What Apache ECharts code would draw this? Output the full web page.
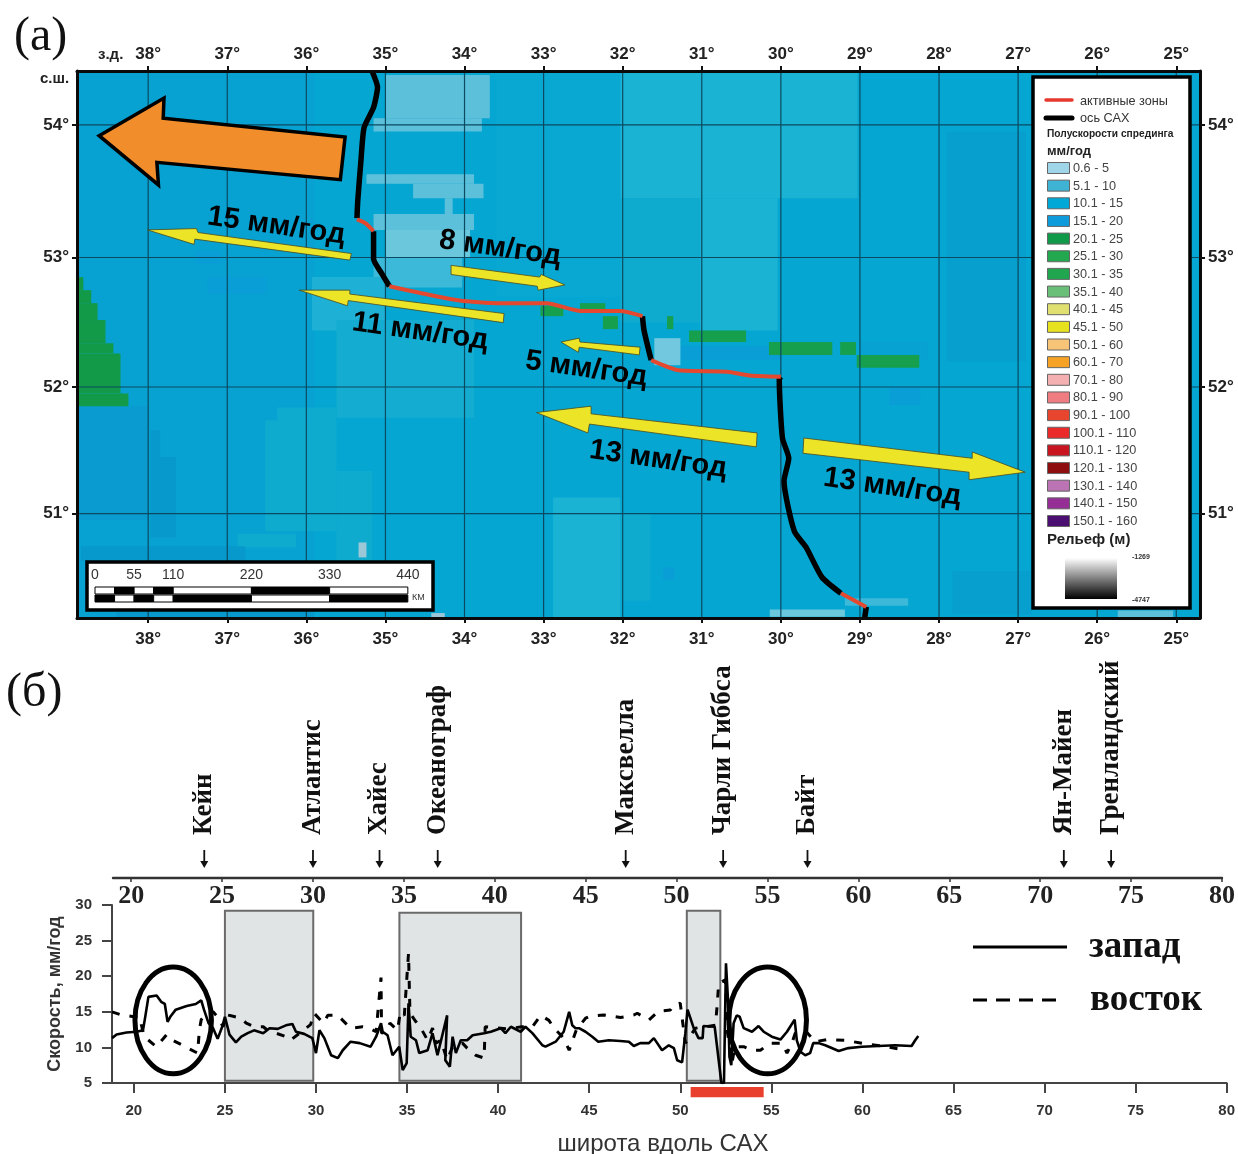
<!DOCTYPE html>
<html><head><meta charset="utf-8">
<style>html,body{margin:0;padding:0;background:#fff}#c{width:1238px;height:1154px}</style>
<script src="https://cdn.jsdelivr.net/npm/echarts@6/dist/echarts.min.js"></script>
</head><body><div id="c"></div>
<script>
// ---------- panel (а): map data ----------
const lonTicks = [38,37,36,35,34,33,32,31,30,29,28,27,26,25];
const latTicks = [54,53,52,51];
const lonRange = [24.7,38.9];
const latRange = [50.16,54.40];

// raster areas of half-spreading rate: [lonWest, lonEast, latSouth, latNorth, tone]
const mapTones = {
  base:'#05a6d2', west:'#07a1d2', west2:'#0a9bd1', east:'#079fce', mid:'#08a8d3', teal:'#1ab3d4', teal2:'#0fabcf', teal3:'#14acd0',
  pale:'#5cc0da', pale2:'#6ac7dc', pale3:'#3cb9d8', pale4:'#1fb0d6', spot:'#9cc7d6', white:'#72c9df',
  deep:'#0899cc', blue:'#099fd6', green:'#139a48', green2:'#169f4d'
};
const rasterAreas = [
  [38.9,24.7,50.16,54.40,'base'],
  [38.9,35.9,50.16,54.40,'west'],
  [33.6,32.03,52.7,54.40,'mid'],
  [27.9,26.9,52.2,53.95,'east'],
  [38.9,38.0,50.95,51.85,'west2'],
  [32.03,29.03,53.45,54.40,'teal'],
  [32.03,31.02,52.5,53.45,'teal2'],
  [31.02,30.04,52.44,53.45,'teal'],
  [35.0,33.68,54.05,54.37,'pale'],
  [35.15,33.78,53.95,54.05,'pale'],
  [35.24,33.88,53.56,53.63,'pale'],
  [34.65,33.76,53.45,53.56,'pale'],
  [34.25,34.15,53.33,53.45,'pale'],
  [35.15,33.88,53.21,53.33,'pale'],
  [35.0,33.93,53.0,53.21,'pale2'],
  [35.15,34.03,52.77,53.0,'pale3'],
  [35.93,35.0,52.44,52.85,'pale4'],
  [35.62,33.88,51.76,52.52,'teal3'],
  [37.4,37.08,52.95,53.05,'blue'],
  [37.25,36.5,52.72,52.85,'blue'],
  [36.52,35.62,50.86,51.74,'teal2'],
  [36.37,35.62,51.74,51.84,'teal2'],
  [35.62,35.17,50.62,51.34,'teal2'],
  [36.87,36.13,50.73,50.84,'teal2'],
  [35.34,35.24,50.65,50.77,'spot'],
  [37.97,37.85,51.45,51.66,'deep'],
  [37.97,37.65,50.81,51.45,'deep'],
  [38.85,36.77,50.62,50.74,'deep'],
  [38.4,35.9,50.16,50.22,'deep'],
  [32.88,32.03,50.16,51.13,'teal'],
  [32.03,31.65,50.3,51.0,'teal2'],
  [31.49,31.35,50.47,50.57,'blue'],
  [27.83,26.83,50.19,50.54,'east'],
  [30.14,29.19,50.17,50.23,'pale2'],
  [29.19,28.39,50.26,50.32,'pale3'],
  [25.74,25.04,50.16,50.22,'pale'],
  [34.42,34.25,50.16,50.2,'spot'],
  [31.27,30.0,52.21,52.32,'blue'],
  [28.99,28.14,52.21,52.35,'west'],
  [28.63,28.24,51.86,52.0,'blue'],
  [31.6,31.27,52.17,52.38,'white'],
  [31.16,30.44,52.35,52.44,'green2'],
  [30.15,29.35,52.25,52.35,'green2'],
  [29.25,29.05,52.25,52.35,'green2'],
  [29.04,28.25,52.15,52.25,'green2'],
  [33.04,32.75,52.55,52.63,'green2'],
  [32.54,32.22,52.59,52.65,'green2'],
  [32.25,32.06,52.45,52.55,'green2'],
  [31.44,31.36,52.45,52.55,'green2'],
  [38.9,38.82,52.75,52.85,'green'],
  [38.9,38.72,52.65,52.75,'green'],
  [38.9,38.64,52.52,52.65,'green'],
  [38.9,38.54,52.34,52.52,'green'],
  [38.9,38.44,52.26,52.34,'green'],
  [38.9,38.35,51.95,52.26,'green'],
  [38.9,38.25,51.85,51.95,'green']
];

// ridge axis, [lon, lat]
const ridgeAxisParts = [
  [[35.17,54.40],[35.10,54.28],[35.15,54.13],[35.27,53.98],[35.31,53.73],[35.35,53.43],[35.36,53.30]],
  [[35.15,53.20],[35.15,52.99],[35.05,52.88],[34.95,52.78]],
  [[31.75,52.55],[31.73,52.44],[31.64,52.21]],
  [[30.0,52.08],[30.02,52.06],[29.98,51.60],[29.90,51.44],[29.96,51.26],[29.83,50.86],[29.68,50.73],[29.48,50.49],[29.24,50.36]],
  [[28.92,50.25],[28.94,50.16]]
];
const activeZones = [
  [[35.36,53.29],[35.25,53.26],[35.15,53.20]],
  [[34.95,52.78],[34.57,52.73],[34.06,52.67],[33.58,52.65],[32.96,52.65],[32.53,52.59],[32.03,52.59],[31.75,52.55]],
  [[31.64,52.21],[31.29,52.13],[30.68,52.12],[30.39,52.09],[30.0,52.08]],
  [[29.24,50.36],[28.92,50.25]]
];

// plate-motion arrows as outlines, [lon, lat]
const bigArrow = [[38.62,53.92],[37.80,54.20],[37.81,54.05],[35.51,53.91],[35.57,53.59],[37.89,53.72],[37.87,53.55]];
const rateArrows = [
  [[38.01,53.21],[37.39,53.22],[37.37,53.19],[35.43,53.03],[35.45,52.98],[37.41,53.14],[37.42,53.10]],
  [[34.17,52.94],[34.17,52.87],[33.08,52.78],[33.07,52.75],[32.73,52.79],[33.03,52.87],[33.05,52.85]],
  [[36.09,52.75],[35.45,52.75],[35.45,52.72],[33.50,52.57],[33.51,52.50],[35.47,52.67],[35.48,52.63]],
  [[32.78,52.35],[32.55,52.38],[32.54,52.35],[31.78,52.31],[31.79,52.25],[32.55,52.31],[32.56,52.27]],
  [[33.09,51.80],[32.40,51.85],[32.40,51.79],[30.30,51.64],[30.31,51.53],[32.42,51.71],[32.44,51.64]],
  [[29.71,51.60],[29.72,51.48],[27.62,51.33],[27.62,51.27],[26.91,51.33],[27.58,51.49],[27.58,51.44]]
];
const rateTexts = ['15 мм/год','8 мм/год','11 мм/год','5 мм/год','13 мм/год','13 мм/год'];
const rateLons  = [36.38,33.55,34.56,32.46,31.55,28.59];
const rateLats  = [53.24,53.07,52.43,52.14,51.43,51.21];

// legend + scale bar
const rateClasses = ['0.6 - 5','5.1 - 10','10.1 - 15','15.1 - 20','20.1 - 25','25.1 - 30','30.1 - 35','35.1 - 40','40.1 - 45','45.1 - 50','50.1 - 60','60.1 - 70','70.1 - 80','80.1 - 90','90.1 - 100','100.1 - 110','110.1 - 120','120.1 - 130','130.1 - 140','140.1 - 150','150.1 - 160'];
const rateColors = ['#9fd5e8','#3fb3d3','#00a8d8','#0e9bdc','#0f9a4a','#22a950','#1fa64f','#6abf78','#dfe070','#e6e21f','#f8c578','#f5a225','#f4b0b0','#ee7c80','#e8452f','#ea2a2a','#c9151f','#8e0e10','#bb73b4','#952f95','#4b0f71'];
const scaleStops = [0,27.5,55,82.5,110,220,330,440];
const scaleLabels = [0,55,110,220,330,440];

// ---------- panel (б): data ----------
const fractureNames = ['Кейн','Атлантис','Хайес','Океанограф','Максвелла','Чарли Гиббса','Байт','Ян-Майен','Гренландский'];
const fractureLats  = [24.02,30,33.66,36.86,47.2,52.56,57.2,71.3,73.9];
const latAxisTicks = [20,25,30,35,40,45,50,55,60,65,70,75,80];
const speedTicks = [5,10,15,20,25,30];
const grayBands = [[25,29.85,5.3,29.2],[34.58,41.26,5.3,28.9],[50.36,52.2,5.3,29.2]];
const circled = [[22.16,13.8,2.1,7.5],[54.8,13.8,2.13,7.5]];
const activeBar = [50.57,54.58];

const westSpeed = [[18.8,11.3],[19.05,11.8],[19.6,12.1],[20.15,12.2],[20.5,12.4],[20.6,13.9],[20.8,17.1],[21.25,17.3],[21.5,16.4],[21.7,16.1],[21.85,13.6],[22.0,14.3],[22.3,15.3],[22.9,15.8],[23.4,16.1],[23.7,16.6],[23.85,15.3],[24.1,13.4],[24.35,12.7],[24.6,11.2],[24.85,12.9],[25.0,14.3],[25.25,11.8],[25.6,10.7],[25.9,11.5],[26.25,12],[26.6,12.4],[27.1,12],[27.45,12.7],[27.9,12.6],[28.35,13.1],[28.7,13.3],[28.9,12.2],[29.35,11.9],[29.8,11.3],[30.0,9.2],[30.19,12.4],[30.46,11.3],[30.83,8.9],[31.2,8.5],[31.47,9.6],[31.9,10.8],[32.4,10.6],[33.0,10.1],[33.3,11.5],[33.57,13.4],[33.66,12.2],[33.93,11.7],[34.2,8.9],[34.57,10.1],[34.76,6.8],[34.98,7.8],[35.08,16.2],[35.2,11.5],[35.49,11],[35.67,9.2],[36.13,9.6],[36.4,12],[36.67,8.9],[37.2,14.5],[37.1,8.2],[37.35,7.3],[37.5,11.5],[37.68,9.2],[37.95,11],[38.3,11],[38.6,11.7],[39.23,12],[39.6,12.2],[40.14,12.7],[40.4,12],[40.7,12.9],[41.24,12.2],[41.5,12.9],[41.88,12],[42.43,10.3],[42.6,10.1],[43.16,10.8],[43.6,12.2],[43.9,15],[44.07,13.1],[44.25,12.7],[44.44,12.7],[44.8,12.2],[45.17,11.5],[45.5,10.8],[46.08,11],[46.7,10.9],[47.18,10.8],[47.45,10.2],[47.8,10.6],[48.28,10.6],[48.55,11.3],[49.0,9.6],[49.37,10.3],[49.65,9.9],[49.83,8.2],[50.1,7.9],[50.28,12],[50.4,15.3],[50.74,12.7],[51.0,11.3],[51.23,11.3],[51.27,13],[51.89,12.9],[52.26,5.0],[52.4,5],[52.51,21.8],[52.62,16.7],[52.7,8.7],[52.8,7.5],[52.93,13.4],[53.1,14.5],[53.26,14.3],[53.48,12.7],[53.94,12.2],[54.3,13],[54.58,12.2],[55.03,11.5],[55.5,11.1],[55.86,12.2],[56.28,13.9],[56.4,11],[56.6,9.4],[56.86,8.9],[57.13,9.2],[57.3,10.6],[57.6,10.6],[57.96,10.3],[58.7,9.5],[59.23,9.9],[59.97,10.1],[60.88,10.2],[61.8,10.3],[62.7,10.2],[62.9,11],[63.07,11.6]];
const eastSpeed = [[18.8,15],[19.27,14.6],[20,14.3],[20.3,14.35],[20.57,11.5],[21.24,10.1],[21.8,11.8],[22.06,11.1],[22.6,10.4],[22.97,9.9],[23.5,9.2],[23.6,12.5],[23.7,13.9],[24,14.8],[24.35,15],[24.6,14.3],[24.9,12.9],[25.07,14.6],[25.4,14.4],[25.9,14.1],[26.17,13.4],[26.6,12.9],[27.1,12.9],[27.45,12.2],[27.8,12],[28.36,11.5],[28.6,11],[29.7,13.2],[29.9,14.8],[30.4,13.4],[30.65,14.5],[31.2,14.5],[31.47,13.8],[31.9,12.7],[32.56,12.9],[32.93,12.7],[33.3,12.2],[33.57,19.8],[33.6,12],[33.84,12.2],[34.06,13.4],[34.48,12.4],[34.63,15],[34.85,14.5],[35.08,23.2],[35.16,14.8],[35.49,13.6],[35.76,12.7],[36.13,11],[36.4,12.7],[36.58,10.6],[36.86,11],[37.2,8.2],[37.5,10.1],[38.04,10.6],[38.3,9.9],[38.77,8.9],[39.23,8.5],[39.29,12.9],[40.5,12.6],[41.3,12.9],[41.88,12.9],[42.34,14.5],[42.79,13.8],[43.07,12.7],[43.6,11.3],[43.9,9.6],[44.3,12.5],[44.8,14.1],[45.08,14.4],[45.8,14.55],[46.72,14.2],[47.45,14.55],[47.64,14.8],[48.28,13.85],[48.82,15.1],[49.46,15.25],[49.65,16],[50.0,16.2],[50.14,13.4],[50.28,10.6],[50.47,11.3],[50.83,12.7],[51.93,13.1],[52.02,15.7],[52.11,19],[52.48,19.5],[52.6,12],[52.84,7.8],[53.0,10.1],[53.48,10.1],[53.94,9.6],[54.4,9.6],[54.94,10.6],[55.6,10.6],[55.86,9.2],[56.13,10.6],[56.31,12],[56.86,12.4],[57.4,10.8],[58.05,11.1],[59.05,11],[60.15,10.5],[61.34,10.1],[62.34,9.6]];

// ---------- helpers ----------
const SANS = '"Liberation Sans",Arial,sans-serif';
const SERIF = '"Liberation Serif","Times New Roman",serif';
// the map is in Mercator projection: latitude -> axis value
const merc = lat => 180/Math.PI*Math.log(Math.tan(Math.PI/4+lat*Math.PI/360));
const invMerc = m => (2*Math.atan(Math.exp(m*Math.PI/180))-Math.PI/2)*180/Math.PI;
const latM = latTicks.map(merc);
const toMap = p => [p[0],merc(p[1])];

const mapAxisBase = {gridIndex:0,type:'value',z:10,
  axisLine:{show:true,onZero:false,lineStyle:{color:'#0a0a0a',width:3}},
  axisTick:{show:true,length:5,lineStyle:{color:'#111',width:2}},
  splitLine:{show:false}};
const mapLabel = {fontFamily:SANS,fontWeight:'bold',fontSize:17,color:'#222',margin:8};

const lonAxis = (pos,margin) => Object.assign({},mapAxisBase,{position:pos,inverse:true,min:lonRange[0],max:lonRange[1],
  axisTick:Object.assign({},mapAxisBase.axisTick,{customValues:lonTicks}),
  axisLabel:Object.assign({},mapLabel,{margin,customValues:lonTicks,formatter:v=>Math.round(v)+'°'})});
const latAxis = pos => Object.assign({},mapAxisBase,{position:pos,min:merc(latRange[0]),max:merc(latRange[1]),
  axisTick:Object.assign({},mapAxisBase.axisTick,{customValues:latM}),
  axisLabel:Object.assign({},mapLabel,{customValues:latM,formatter:v=>Math.round(invMerc(v))+'°'})});

const mapSeries = {xAxisIndex:0,yAxisIndex:0};

function polyItem(points,api,style){
  return {type:'polygon',shape:{points:points.map(p=>api.coord(toMap(p)))},style};
}
const series = [];
// raster
series.push(Object.assign({type:'custom',name:'raster',z:1,silent:true,data:rasterAreas,encode:{x:0,y:2},
  renderItem:(p,api)=>{
    const a=rasterAreas[p.dataIndex];
    const c1=api.coord([a[0],merc(a[3])]), c2=api.coord([a[1],merc(a[2])]);
    return {type:'rect',shape:{x:c1[0],y:c1[1],width:c2[0]-c1[0],height:c2[1]-c1[1]},style:{fill:mapTones[a[4]]}};
  }},mapSeries));
// graticule
const graticule = lonTicks.map(v=>['lon',v]).concat(latTicks.map(v=>['lat',v]));
series.push(Object.assign({type:'custom',name:'graticule',z:2,silent:true,data:graticule,encode:{},
  renderItem:(p,api)=>{
    const g=graticule[p.dataIndex];
    const a=g[0]==='lon'?api.coord([g[1],merc(latRange[0])]):api.coord([lonRange[1],merc(g[1])]);
    const b=g[0]==='lon'?api.coord([g[1],merc(latRange[1])]):api.coord([lonRange[0],merc(g[1])]);
    return {type:'line',shape:{x1:a[0],y1:a[1],x2:b[0],y2:b[1]},style:{stroke:'#0b4a60',lineWidth:1.2}};
  }},mapSeries));
// ridge
ridgeAxisParts.forEach(seg=>series.push(Object.assign({type:'line',name:'ось САХ',z:3,symbol:'none',silent:true,smooth:0.2,data:seg.map(toMap),
  lineStyle:{color:'#000',width:5.5,cap:'butt',join:'round'}},mapSeries)));
activeZones.forEach(seg=>series.push(Object.assign({type:'line',name:'активные зоны',z:4,symbol:'none',silent:true,smooth:0.2,data:seg.map(toMap),
  lineStyle:{color:'#e4492f',width:4,cap:'butt',join:'round'}},mapSeries)));
// arrows
series.push(Object.assign({type:'custom',name:'big arrow',z:5,silent:true,data:[0],encode:{},
  renderItem:(p,api)=>polyItem(bigArrow,api,{fill:'#f28d2b',stroke:'#000',lineWidth:3.5})},mapSeries));
series.push(Object.assign({type:'custom',name:'rate arrows',z:5,silent:true,data:rateArrows.map((a,i)=>i),encode:{},
  renderItem:(p,api)=>polyItem(rateArrows[p.dataIndex],api,{fill:'#ece527',stroke:'#4a4a20',lineWidth:0.8})},mapSeries));
series.push(Object.assign({type:'custom',name:'rate labels',z:6,silent:true,data:rateTexts.map((a,i)=>i),encode:{},
  renderItem:(p,api)=>{
    const c=api.coord([rateLons[p.dataIndex],merc(rateLats[p.dataIndex])]);
    return {type:'text',x:c[0],y:c[1],rotation:-8*Math.PI/180,
      style:{text:rateTexts[p.dataIndex],font:'bold 29px '+SANS,fill:'#000',textAlign:'center',textVerticalAlign:'middle'}};
  }},mapSeries));

// fracture tags above top axis (y axis: height above line)
series.push({type:'custom',name:'fractures',xAxisIndex:2,yAxisIndex:2,z:3,silent:true,data:fractureNames.map((a,i)=>i),encode:{},
  renderItem:(p,api)=>{
    const i=p.dataIndex, x=fractureLats[i];
    const t=api.coord([x,43]), a=api.coord([x,28]), b=api.coord([x,10]);
    return {type:'group',children:[
      {type:'text',x:t[0],y:t[1],rotation:Math.PI/2,style:{text:fractureNames[i],font:'bold 27px '+SERIF,fill:'#111',textAlign:'left',textVerticalAlign:'middle'}},
      {type:'line',shape:{x1:a[0],y1:a[1],x2:b[0],y2:b[1]-5},style:{stroke:'#111',lineWidth:1.8}},
      {type:'polygon',shape:{points:[[b[0]-4,b[1]-7],[b[0]+4,b[1]-7],[b[0],b[1]]]},style:{fill:'#111'}}
    ]};
  }});
// gray bands
series.push({type:'custom',name:'bands',xAxisIndex:3,yAxisIndex:3,z:1,silent:true,data:grayBands.map((a,i)=>i),encode:{},
  renderItem:(p,api)=>{
    const b=grayBands[p.dataIndex], c1=api.coord([b[0],b[3]]), c2=api.coord([b[1],b[2]]);
    return {type:'rect',shape:{x:c1[0],y:c1[1],width:c2[0]-c1[0],height:c2[1]-c1[1]},style:{fill:'#e0e4e4',stroke:'#6a6a6a',lineWidth:2}};
  }});
series.push({type:'line',name:'восток',xAxisIndex:3,yAxisIndex:3,z:3,symbol:'none',silent:true,data:eastSpeed,
  lineStyle:{color:'#000',width:3,type:[8,10]}});
series.push({type:'line',name:'запад',xAxisIndex:3,yAxisIndex:3,z:4,symbol:'none',silent:true,data:westSpeed,
  lineStyle:{color:'#000',width:2.6}});
series.push({type:'custom',name:'circled',xAxisIndex:3,yAxisIndex:3,z:5,silent:true,data:circled.map((a,i)=>i),encode:{},
  renderItem:(p,api)=>{
    const e=circled[p.dataIndex], c=api.coord([e[0],e[1]]), s=api.size([e[2],e[3]]);
    return {type:'ellipse',shape:{cx:c[0],cy:c[1],rx:s[0],ry:s[1]},style:{fill:'none',stroke:'#000',lineWidth:5}};
  }});
series.push({type:'custom',name:'active',xAxisIndex:3,yAxisIndex:3,z:5,silent:true,data:[0],encode:{},
  renderItem:(p,api)=>{
    const c1=api.coord([activeBar[0],4.44]), c2=api.coord([activeBar[1],3.0]);
    return {type:'rect',shape:{x:c1[0],y:c1[1],width:c2[0]-c1[0],height:c2[1]-c1[1]},style:{fill:'#e8402c'}};
  }});

// ---------- graphic: titles, legend, scale bar ----------
const G=[];
const txt=(x,y,text,font,fill,align,rot)=>G.push({type:'text',x,y,rotation:rot||0,z:20,silent:true,
  style:{text,font,fill:fill||'#000',textAlign:align||'left',textVerticalAlign:'middle'}});
const rect=(x,y,w,h,fill,stroke,lw)=>G.push({type:'rect',z:20,silent:true,shape:{x,y,width:w,height:h},style:{fill,stroke:stroke||null,lineWidth:lw||0}});

txt(14,37,'(а)','48px '+SERIF,'#111');
txt(6,693,'(б)','48px '+SERIF,'#111');
txt(98,55,'з.д.','bold 15px '+SANS,'#222');
txt(40,79,'с.ш.','bold 15px '+SANS,'#222');

// map legend
rect(1033,77,157,531,'#fff','#000',3.5);
G.push({type:'line',z:21,silent:true,shape:{x1:1046,y1:100,x2:1072,y2:100},style:{stroke:'#e4392c',lineWidth:3.5,lineCap:'round'}});
G.push({type:'line',z:21,silent:true,shape:{x1:1046,y1:118,x2:1072,y2:118},style:{stroke:'#000',lineWidth:5,lineCap:'round'}});
txt(1080,101,'активные зоны','12.7px '+SANS,'#333');
txt(1080,118,'ось САХ','12.7px '+SANS,'#333');
txt(1047,134,'Полускорости спрединга','bold 10.2px '+SANS,'#222');
txt(1047,151,'мм/год','bold 13px '+SANS,'#222');
rateClasses.forEach((c,i)=>{
  const y=168+i*17.65;
  G.push({type:'rect',z:21,silent:true,shape:{x:1047.5,y:y-5.5,width:22,height:11},style:{fill:rateColors[i],stroke:'#666',lineWidth:1}});
  txt(1073,y+0.5,c,'12.7px '+SANS,'#444');
});
txt(1047,540,'Рельеф (м)','bold 15px '+SANS,'#222');
G.push({type:'rect',z:21,silent:true,shape:{x:1065,y:558,width:52,height:41},style:{fill:new echarts.graphic.LinearGradient(0,0,0,1,[{offset:0,color:'#fff'},{offset:1,color:'#000'}])}});
txt(1132,557,'-1269','bold 7px '+SANS,'#333');
txt(1132,600,'-4747','bold 7px '+SANS,'#333');

// scale bar
rect(87,562,346,48,'#fff','#000',3.5);
const kmPx=d=>95+d*0.711;
scaleLabels.forEach(d=>txt(kmPx(d),575,String(d),'14px '+SANS,'#333','center'));
for(let i=0;i<scaleStops.length-1;i++){
  const x0=kmPx(scaleStops[i]), w=kmPx(scaleStops[i+1])-x0;
  G.push({type:'rect',z:21,silent:true,shape:{x:x0,y:587,width:w,height:7},style:{fill:i%2?'#000':'#fff',stroke:'#000',lineWidth:1}});
  G.push({type:'rect',z:21,silent:true,shape:{x:x0,y:595,width:w,height:7},style:{fill:i%2?'#fff':'#000',stroke:'#000',lineWidth:1}});
}
txt(412,598,'КМ','9px '+SANS,'#333');

// panel б legend + axis title
G.push({type:'line',z:21,silent:true,shape:{x1:973,y1:947,x2:1067,y2:947},style:{stroke:'#000',lineWidth:3.2}});
G.push({type:'line',z:21,silent:true,shape:{x1:973,y1:1000,x2:1056,y2:1000},style:{stroke:'#000',lineWidth:3.2,lineDash:[14,9]}});
txt(1089,947,'запад','bold 37px '+SERIF,'#111');
txt(1090,1000,'восток','bold 37px '+SERIF,'#111');
txt(663,1144,'широта вдоль САХ','24px '+SANS,'#333','center');

const option = {
  animation:false, backgroundColor:'#fff',
  grid:[
    {left:77,top:71,width:1123,height:547,containLabel:false},
    {left:113,width:1109,top:660,height:218},
    {left:112,width:1117,top:905,height:178}
  ],
  xAxis:[
    lonAxis('bottom',13), lonAxis('top',8),
    {gridIndex:1,type:'value',min:19,max:80,position:'bottom',
     axisLine:{show:true,onZero:false,lineStyle:{color:'#333',width:2.4}},
     axisTick:{show:true,length:4,customValues:latAxisTicks,lineStyle:{color:'#333',width:1.5}},
     axisLabel:{customValues:latAxisTicks,fontFamily:SERIF,fontWeight:'bold',fontSize:26,color:'#222',margin:5},
     splitLine:{show:false}},
    {gridIndex:2,type:'value',min:18.8,max:80,position:'bottom',
     axisLine:{show:true,onZero:false,lineStyle:{color:'#444',width:2}},
     axisTick:{show:true,length:10,customValues:latAxisTicks,lineStyle:{color:'#444',width:2}},
     axisLabel:{customValues:latAxisTicks,fontFamily:SANS,fontWeight:'bold',fontSize:15,color:'#333',margin:20},
     splitLine:{show:false}}
  ],
  yAxis:[
    latAxis('left'), latAxis('right'),
    {gridIndex:1,type:'value',min:0,max:218,show:false},
    {gridIndex:2,type:'value',min:5,max:30,position:'left',
     axisLine:{show:true,onZero:false,lineStyle:{color:'#444',width:2}},
     axisTick:{show:true,length:10,customValues:speedTicks,lineStyle:{color:'#444',width:2}},
     axisLabel:{customValues:speedTicks,fontFamily:SANS,fontWeight:'bold',fontSize:15,color:'#333',margin:20},
     splitLine:{show:false},
     name:'Скорость, мм/год',nameLocation:'middle',nameGap:45,nameRotate:90,
     nameTextStyle:{fontFamily:SANS,fontWeight:'bold',fontSize:18,color:'#333'}}
  ],
  series,
  graphic:{elements:G}
};
echarts.init(document.getElementById('c'),null,{renderer:'canvas'}).setOption(option);
</script></body></html>
